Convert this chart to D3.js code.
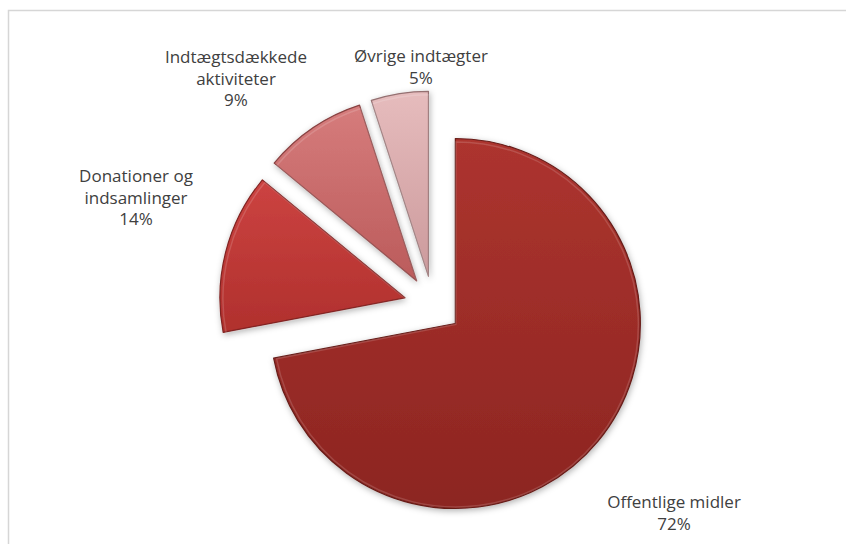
<html>
<head>
<meta charset="UTF-8">
<script src="https://d3js.org/d3.v7.min.js"></script>
<style>
  body { margin: 0; background: #fff; }
  text { font-family: "Open Sans", sans-serif; fill: #404040; }
</style>
</head>
<body>
<svg width="846" height="544"></svg>
<script>
// data
const labels = [["Offentlige midler"], ["Donationer og", "indsamlinger"], ["Indtægtsdækkede", "aktiviteter"], ["Øvrige indtægter"]]
const values = [72, 14, 9, 5]
const colors = [["#ad342f", "#8c2521"], ["#cc4341", "#b0302d"], ["#d67c7c", "#bb5b5b"], ["#e6bcbd", "#cc9a9c"]]
const labelPos = [[674, 508], [136, 182], [236, 63], [421, 62]]

const svg = d3.select("svg")
const cx = 433, cy = 305, r = 185, explode = 29

svg.append("rect").attr("x", 8.5).attr("y", 10.5).attr("width", 900).attr("height", 600)
    .attr("fill", "none").attr("stroke", "#d6d6d6").attr("stroke-width", 1.5)

const defs = svg.append("defs")
const f = defs.append("filter").attr("id", "shadow").attr("x", "-20%").attr("y", "-20%").attr("width", "140%").attr("height", "140%")
f.append("feDropShadow").attr("dx", 1).attr("dy", 2).attr("stdDeviation", 3).attr("flood-color", "#000").attr("flood-opacity", 0.3)

colors.forEach(function (c, i) {
    const g = defs.append("linearGradient").attr("id", "grad" + i)
        .attr("x1", 0).attr("y1", 0).attr("x2", 0).attr("y2", 1)
    g.append("stop").attr("offset", "0%").attr("stop-color", c[0])
    g.append("stop").attr("offset", "100%").attr("stop-color", c[1])
})

const pie = d3.pie().sort(null).value(function (d) { return d })
const arc = d3.arc().innerRadius(0).outerRadius(r)
const arcs = pie(values)

const g = svg.append("g").attr("transform", "translate(" + cx + "," + cy + ")")
const slice = g.selectAll("g.slice").data(arcs).enter().append("g")
    .attr("transform", function (d) {
        const a = (d.startAngle + d.endAngle) / 2
        return "translate(" + (Math.sin(a) * explode) + "," + (-Math.cos(a) * explode) + ")"
    })
slice.append("path").attr("d", arc)
    .attr("fill", function (d, i) { return "url(#grad" + i + ")" })
    .attr("stroke", function (d, i) { return d3.color(colors[i][1]).darker(0.9) })
    .attr("stroke-width", 1.2)
    .attr("stroke-linejoin", "round")
    .attr("filter", "url(#shadow)")
// bevel highlight
slice.append("path").attr("d", d3.arc().innerRadius(0).outerRadius(r - 2.5))
    .attr("fill", "none")
    .attr("stroke", "rgba(255,255,255,0.15)")
    .attr("stroke-width", 1.5)
    .attr("transform", "translate(0.5,1)")

labels.forEach(function (lines, i) {
    const t = svg.append("text").attr("text-anchor", "middle").attr("font-size", 17)
    const all = lines.concat([values[i] + "%"])
    all.forEach(function (s, j) {
        t.append("tspan").attr("x", labelPos[i][0]).attr("y", labelPos[i][1] + j * 21.5).text(s)
    })
})
</script>
</body>
</html>
